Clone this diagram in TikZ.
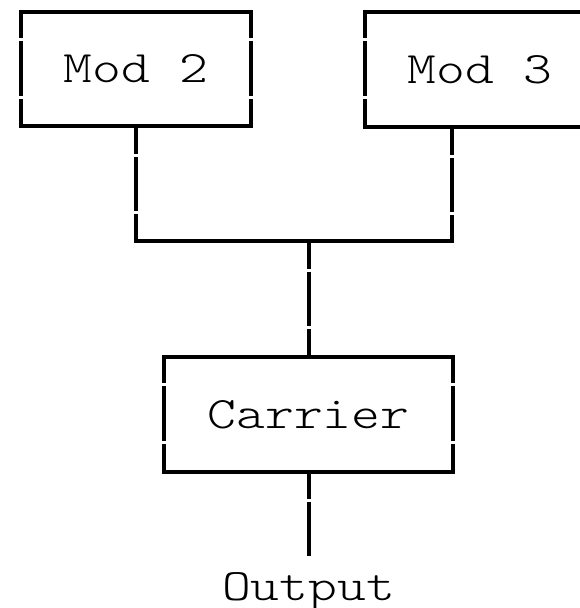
\documentclass[tikz,border=0pt]{standalone}
\usepackage{fontspec}
\newfontfamily\courfont[FakeStretch=1.22]{Latin Modern Mono Light}
\usetikzlibrary{calc}
\begin{document}
\begin{tikzpicture}[x=1pt,y=-1pt,
  modbox/.style={draw=none,rectangle,inner sep=0pt,font=\courfont\fontsize{45}{45}\selectfont},
  hline/.style={line width=4pt,line cap=rect},
  vline/.style={line width=4pt,dash pattern=on 54.5pt off 3pt},
  lbl/.style={inner sep=0pt,font=\courfont\fontsize{45}{45}\selectfont}]
\useasboundingbox (0,0) rectangle (580,608);
\clip (0,0) rectangle (580,608);
\node[modbox,minimum width=230pt,minimum height=114pt] (mod2) at (136,69) {Mod 2};
\node[modbox,minimum width=230pt,minimum height=115pt] (mod3) at (480,69.5) {Mod 3};
\node[modbox,minimum width=289pt,minimum height=115pt] (carrier) at (308.5,414.5) {Carrier};
\node[lbl,anchor=base,text height=43pt] (out) at (308.5,600) {Output};
\coordinate (j) at (carrier.north |- 0,241);
\coordinate (m3c) at ($(mod3.south west)+(87,0)$);
% box borders
\foreach \b/\p in {mod2/28,mod3/28,carrier/28}{
  \draw[hline] (\b.north west) -- (\b.north east);
  \draw[hline] (\b.south west) -- (\b.south east);
  \draw[vline,dash phase=\p pt] (\b.north west) -- (\b.south west);
  \draw[vline,dash phase=\p pt] (\b.north east) -- (\b.south east);
}
% connectors
\draw[vline,dash phase=27pt] (mod2.south) -- (mod2.south |- j);
\draw[vline,dash phase=27pt] (m3c) -- (m3c |- j);
\draw[hline] (mod2.south |- j) -- (m3c |- j);
\draw[vline,dash phase=27pt] (j) -- (carrier.north);
\draw[vline,dash phase=28pt] (carrier.south) -- (out.north);
\end{tikzpicture}
\end{document}
